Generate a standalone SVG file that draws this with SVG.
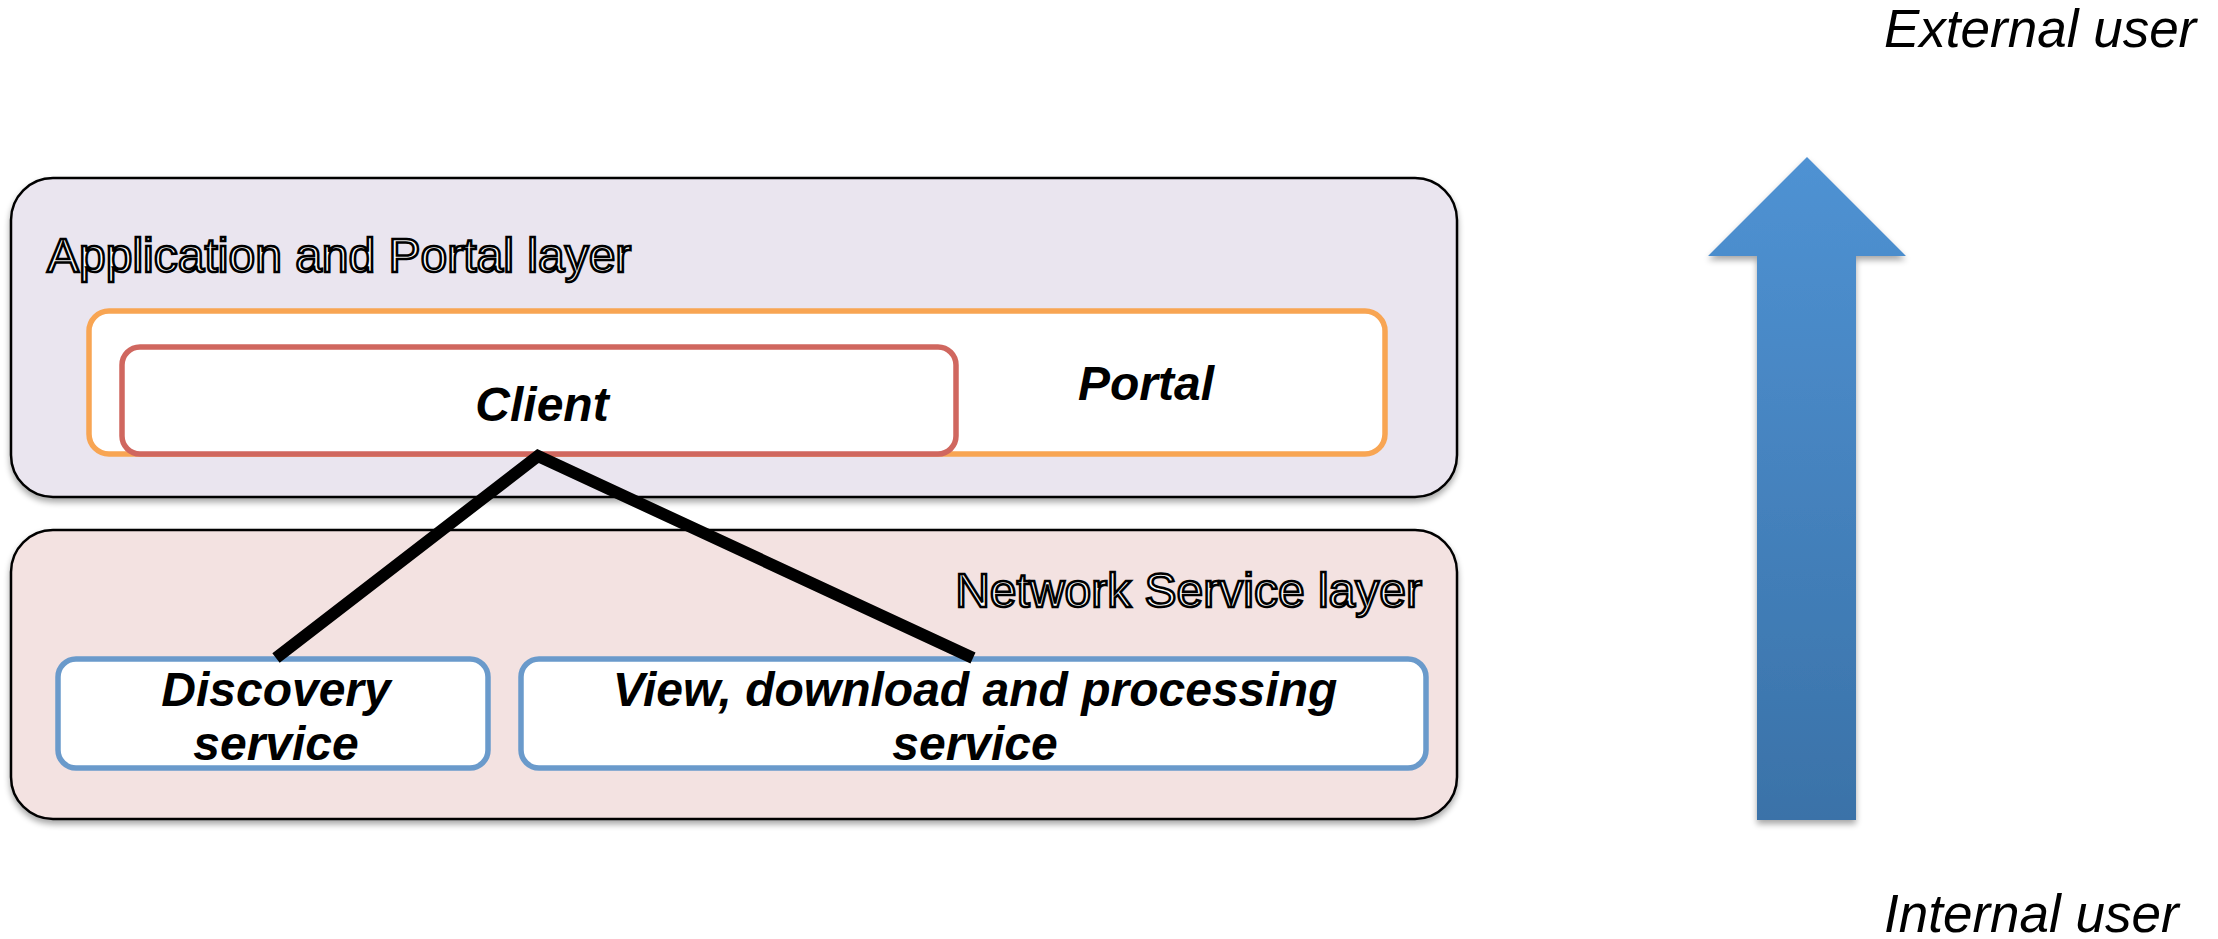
<svg xmlns="http://www.w3.org/2000/svg" width="2218" height="939" viewBox="0 0 2218 939">
<defs>
<style>
.layer{stroke:#000;stroke-width:2.5}
.inner{fill:#fff;stroke-width:5.5}
.outline{font-family:"Liberation Sans",Arial,sans-serif;font-size:48px;fill:#fff;stroke:#000;stroke-width:2.5}
.lbl{font-family:"Liberation Sans",Arial,sans-serif;font-size:48px;font-weight:bold;font-style:italic;fill:#000;text-anchor:middle}
.user{font-family:"Liberation Sans",Arial,sans-serif;font-size:53px;font-style:italic;fill:#000}
.conn{stroke:#000;stroke-width:12;fill:none;stroke-linejoin:miter}
</style>
<filter id="sh" x="-5%" y="-5%" width="110%" height="115%">
<feGaussianBlur in="SourceAlpha" stdDeviation="3"/>
<feOffset dx="0" dy="4" result="b"/>
<feComponentTransfer><feFuncA type="linear" slope="0.35"/></feComponentTransfer>
<feMerge><feMergeNode/><feMergeNode in="SourceGraphic"/></feMerge>
</filter>
<linearGradient id="ag" x1="0" y1="0" x2="0" y2="1">
<stop offset="0" stop-color="#4F92D3"/>
<stop offset="1" stop-color="#3A72A8"/>
</linearGradient>
</defs>
<rect width="2218" height="939" fill="#fff"/>
<g id="app-layer">
<rect class="layer" x="11" y="178" width="1446" height="319" rx="42" fill="#EAE5EF" filter="url(#sh)"/>
<text class="outline" x="47" y="272">Application and Portal layer</text>
</g>
<g id="portal">
<rect class="inner" x="89" y="311" width="1296" height="143" rx="20" stroke="#F8A553"/>
<text class="lbl" x="1146" y="400">Portal</text>
</g>
<g id="client">
<rect class="inner" x="122" y="347" width="834" height="107" rx="18" stroke="#D0675F"/>
<text class="lbl" x="542" y="421">Client</text>
</g>
<g id="network-layer">
<rect class="layer" x="11" y="530" width="1446" height="289" rx="42" fill="#F3E2E1" filter="url(#sh)"/>
<text class="outline" x="1422" y="607" text-anchor="end">Network Service layer</text>
</g>
<g id="discovery">
<rect class="inner" x="58" y="659" width="430" height="109" rx="18" stroke="#6A9ACB"/>
<text class="lbl" x="276" y="706">Discovery</text>
<text class="lbl" x="276" y="760">service</text>
</g>
<g id="view">
<rect class="inner" x="521" y="659" width="905" height="109" rx="18" stroke="#6A9ACB"/>
<text class="lbl" x="975" y="706">View, download and processing</text>
<text class="lbl" x="975" y="760">service</text>
</g>
<g id="connectors">
<polyline class="conn" points="276,658 538,456 973,658"/>
</g>
<g id="arrow">
<polygon points="1807,157 1906,256 1856,256 1856,820 1757,820 1757,256 1708,256" fill="url(#ag)" filter="url(#sh)"/>
</g>
<g id="labels">
<text class="user" x="1884" y="47">External user</text>
<text class="user" x="1884" y="932">Internal user</text>
</g>
</svg>
